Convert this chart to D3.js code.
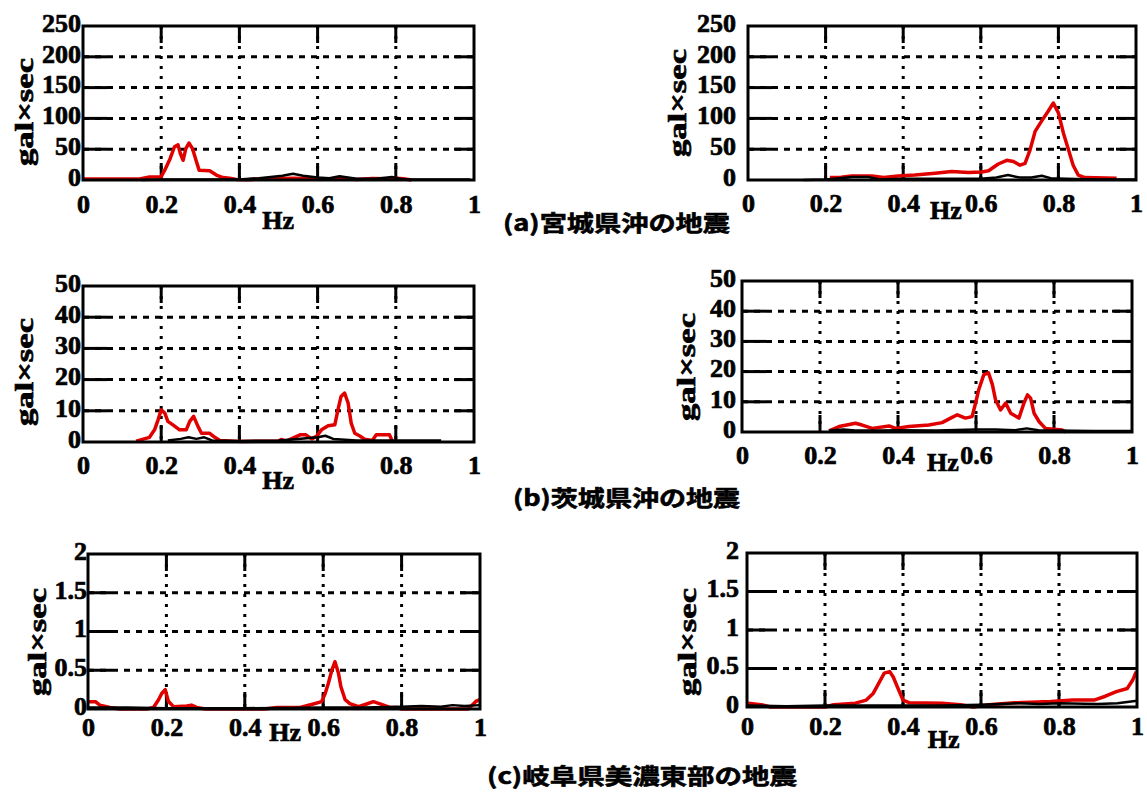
<!DOCTYPE html>
<meta charset="utf-8">
<style>
body { margin: 0; background: #fff; }
.tick text { font-family: "Liberation Serif", serif; font-weight: bold; font-size: 26px; fill: #000; stroke: #000; stroke-width: 0.7px; }
.hz, .ytitle { font-family: "Liberation Serif", serif; font-weight: bold; fill: #000; stroke: #000; stroke-width: 0.7px; }
.caption { font-family: "Noto Sans CJK JP", sans-serif; font-weight: bold; font-size: 22px; fill: #000; stroke: #000; stroke-width: 0.6px; }
</style>
<body>
<svg id="svg" width="1147" height="795"></svg>
<script src="https://cdnjs.cloudflare.com/ajax/libs/d3/7.8.5/d3.min.js"></script>
<script>

var xTicks = [0, 0.2, 0.4, 0.6, 0.8, 1];
var yTicksA = [0, 50, 100, 150, 200, 250];
var yTicksB = [0, 10, 20, 30, 40, 50];
var yTicksC = [0, 0.5, 1, 1.5, 2];

var captions = ["(a)宮城県沖の地震", "(b)茨城県沖の地震", "(c)岐阜県美濃東部の地震"];
var yTitle = "gal×sec";
var xTitle = "Hz";

// [Hz, value]
var aLeftRed = [[0,1.6],[0.05,1.6],[0.1,1.6],[0.145,1.6],[0.17,5],[0.2,5.4],[0.209,16],[0.223,35],[0.234,54],[0.243,57],[0.249,43],[0.256,32],[0.263,51],[0.271,60],[0.28,51],[0.29,30],[0.297,16],[0.324,15],[0.341,8],[0.358,4],[0.375,3],[0.392,1],[0.42,0.5],[0.46,2],[0.5,2.5],[0.54,3],[0.58,2],[0.62,1.5],[0.66,2],[0.7,1],[0.74,2.5],[0.78,2],[0.8,3],[0.82,2],[0.84,0]];
var aLeftBlack = [[0.15,0],[0.2,1],[0.3,1],[0.4,1],[0.45,3],[0.48,5],[0.51,7],[0.537,10],[0.563,7],[0.6,4],[0.63,3],[0.656,6],[0.7,2],[0.75,2],[0.79,5],[0.82,1],[0.9,1],[0.99,1]];
var aRightRed = [[0.211,4],[0.24,4.4],[0.267,6.6],[0.319,6.6],[0.35,4],[0.387,6.6],[0.43,8],[0.482,10.9],[0.525,13.7],[0.568,12],[0.602,13],[0.62,15],[0.645,26],[0.667,32],[0.684,30],[0.701,24],[0.714,27],[0.727,49],[0.74,79],[0.757,96],[0.774,112],[0.787,125],[0.8,109],[0.813,76],[0.826,49],[0.838,24],[0.851,8],[0.868,4],[0.95,3]];
var aRightBlack = [[0.143,0],[0.2,1],[0.27,5],[0.31,5],[0.34,1],[0.4,2],[0.5,2],[0.6,2],[0.64,4],[0.67,8],[0.7,4],[0.73,4],[0.757,7],[0.78,3],[0.82,2],[0.9,1],[1,1]];

var bLeftRed = [[0.136,0.3],[0.17,1.5],[0.183,3.9],[0.192,7.1],[0.2,10.3],[0.209,9.3],[0.217,6.6],[0.23,5.5],[0.247,3.9],[0.264,3.9],[0.273,6.6],[0.283,8.2],[0.294,5],[0.303,2.8],[0.324,2.8],[0.337,1.5],[0.35,0.5],[0.4,0.2],[0.5,0.3],[0.507,0.8],[0.52,0.3],[0.555,2.3],[0.57,2.3],[0.585,1],[0.597,1.8],[0.61,3.9],[0.627,5.2],[0.644,5.5],[0.652,10.3],[0.66,14.6],[0.669,15.7],[0.678,12.5],[0.686,6],[0.695,2.8],[0.708,1.9],[0.72,0.9],[0.74,0.5],[0.75,2.3],[0.784,2.3],[0.79,0.5]];
var bLeftBlack = [[0.217,0.5],[0.25,1],[0.27,1.5],[0.29,1],[0.31,1.5],[0.33,0.5],[0.4,0.3],[0.5,0.5],[0.55,1],[0.6,1.5],[0.62,2],[0.64,1],[0.7,0.5],[0.8,0.5],[0.916,0.5]];
var bRightRed = [[0.223,0.4],[0.249,1.8],[0.291,2.9],[0.308,2.3],[0.334,1.2],[0.377,2],[0.394,1.2],[0.428,1.8],[0.479,2.3],[0.513,3.1],[0.535,4.6],[0.552,5.7],[0.573,4.6],[0.59,5.1],[0.599,9.6],[0.607,14],[0.62,19],[0.632,19.6],[0.642,15.7],[0.65,10.7],[0.663,7.3],[0.676,9.6],[0.689,6.2],[0.71,4.6],[0.723,9.6],[0.732,12.3],[0.74,11.2],[0.749,6.2],[0.762,3.4],[0.778,1.2],[0.8,0.9],[0.821,0.7],[0.83,0]];
var bRightBlack = [[0.223,0.5],[0.26,0.8],[0.29,0.5],[0.35,0.5],[0.4,0.6],[0.5,0.5],[0.6,0.8],[0.65,0.8],[0.7,0.6],[0.73,1.2],[0.76,0.6],[0.8,0.5],[0.9,0.3],[1,0.3]];

var cLeftRed = [[0.002,0.095],[0.019,0.095],[0.03,0.05],[0.056,0.02],[0.08,0],[0.15,0],[0.167,0.02],[0.18,0.12],[0.188,0.2],[0.197,0.25],[0.205,0.1],[0.218,0.03],[0.252,0.04],[0.264,0.05],[0.277,0.02],[0.3,0],[0.45,0],[0.482,0.02],[0.541,0.02],[0.575,0.065],[0.596,0.095],[0.605,0.2],[0.613,0.33],[0.622,0.5],[0.63,0.61],[0.639,0.46],[0.645,0.29],[0.656,0.12],[0.668,0.07],[0.69,0.03],[0.711,0.065],[0.728,0.095],[0.745,0.065],[0.77,0.02],[0.787,0.02],[0.8,0],[0.97,0],[0.99,0.1],[1,0.12]];
var cLeftBlack = [[0,0.02],[0.1,0.02],[0.2,0.01],[0.4,0.01],[0.6,0.02],[0.7,0.02],[0.8,0.03],[0.85,0.04],[0.9,0.03],[0.93,0.05],[0.96,0.04],[1,0.05]];
var cRightRed = [[0.003,0.05],[0.036,0.03],[0.06,0],[0.2,0],[0.222,0.03],[0.278,0.05],[0.306,0.09],[0.324,0.18],[0.338,0.31],[0.352,0.44],[0.366,0.46],[0.375,0.39],[0.389,0.22],[0.4,0.09],[0.417,0.055],[0.5,0.05],[0.547,0.03],[0.58,0],[0.62,0.03],[0.686,0.055],[0.779,0.07],[0.835,0.09],[0.89,0.09],[0.919,0.14],[0.947,0.2],[0.975,0.24],[0.989,0.35],[0.998,0.46]];
var cRightBlack = [[0,0.02],[0.1,0.01],[0.2,0.02],[0.4,0.02],[0.5,0.02],[0.6,0.03],[0.7,0.05],[0.75,0.04],[0.8,0.05],[0.9,0.04],[0.95,0.05],[1,0.08]];

// layout of the six axes boxes
var panels = [
  {left: 83,  right: 474,  top: 26,  bottom: 180, yTicks: yTicksA, red: aLeftRed,  black: aLeftBlack,  yPad: 2,  xLab: 24, hzF: 0.499, hzY: 40, tX: 24,  tY: 112},
  {left: 748, right: 1136, top: 26,  bottom: 180, yTicks: yTicksA, red: aRightRed, black: aRightBlack, yPad: 12, xLab: 23, hzF: 0.51,  hzY: 30, tX: 677, tY: 103},
  {left: 83,  right: 474,  top: 286, bottom: 442, yTicks: yTicksB, red: bLeftRed,  black: bLeftBlack,  yPad: 2,  xLab: 23, hzF: 0.499, hzY: 38, tX: 24,  tY: 372},
  {left: 742, right: 1132, top: 281, bottom: 432, yTicks: yTicksB, red: bRightRed, black: bRightBlack, yPad: 6,  xLab: 23, hzF: 0.515, hzY: 30, tX: 686, tY: 367},
  {left: 88,  right: 480,  top: 554, bottom: 709, yTicks: yTicksC, red: cLeftRed,  black: cLeftBlack,  yPad: 1,  xLab: 18, hzF: 0.503, hzY: 23, tX: 37,  tY: 642},
  {left: 747, right: 1137, top: 553, bottom: 707, yTicks: yTicksC, red: cRightRed, black: cRightBlack, yPad: 8,  xLab: 19, hzF: 0.504, hzY: 32, tX: 687, tY: 642}
];

var capPos = [
  {x: 503, y: 221, w: 227},
  {x: 513, y: 496, w: 227},
  {x: 487, y: 774, w: 310}
];

var svg = d3.select("#svg");

panels.forEach(function(p) {
  var yMax = p.yTicks[p.yTicks.length - 1];
  var x = d3.scaleLinear().domain([0, 1]).range([p.left, p.right]);
  var y = d3.scaleLinear().domain([0, yMax]).range([p.bottom, p.top]);
  var g = svg.append("g");

  // dotted grid
  g.selectAll(".vg").data(xTicks.slice(1, -1)).enter().append("line")
      .attr("x1", function(d) { return x(d); }).attr("x2", function(d) { return x(d); })
      .attr("y1", p.top).attr("y2", p.bottom)
      .attr("stroke", "#000").attr("stroke-width", 3).attr("stroke-dasharray", "3,7");
  g.selectAll(".hg").data(p.yTicks.slice(1, -1)).enter().append("line")
      .attr("x1", p.left).attr("x2", p.right)
      .attr("y1", function(d) { return y(d); }).attr("y2", function(d) { return y(d); })
      .attr("stroke", "#000").attr("stroke-width", 3).attr("stroke-dasharray", "6,6");

  // inward ticks
  xTicks.slice(1, -1).forEach(function(d) {
    g.append("line").attr("x1", x(d)).attr("x2", x(d)).attr("y1", p.top).attr("y2", p.top + 17)
        .attr("stroke", "#000").attr("stroke-width", 3);
    g.append("line").attr("x1", x(d)).attr("x2", x(d)).attr("y1", p.bottom).attr("y2", p.bottom - 17)
        .attr("stroke", "#000").attr("stroke-width", 3);
  });
  p.yTicks.slice(1, -1).forEach(function(d) {
    g.append("line").attr("x1", p.left).attr("x2", p.left + 24).attr("y1", y(d)).attr("y2", y(d))
        .attr("stroke", "#000").attr("stroke-width", 3);
    g.append("line").attr("x1", p.right).attr("x2", p.right - 20).attr("y1", y(d)).attr("y2", y(d))
        .attr("stroke", "#000").attr("stroke-width", 3);
  });

  var line = d3.line()
      .x(function(d) { return x(d[0]); })
      .y(function(d) { return y(d[1]); });

  g.append("path").datum(p.red).attr("d", line)
      .attr("fill", "none").attr("stroke", "#e00000").attr("stroke-width", 3.5).attr("stroke-linejoin", "round");
  g.append("path").datum(p.black).attr("d", line)
      .attr("fill", "none").attr("stroke", "#000").attr("stroke-width", 2.5).attr("stroke-linejoin", "round");

  // frame
  g.append("rect").attr("x", p.left).attr("y", p.top)
      .attr("width", p.right - p.left).attr("height", p.bottom - p.top)
      .attr("fill", "none").attr("stroke", "#000").attr("stroke-width", 3);

  // tick labels
  var ax = g.append("g").attr("transform", "translate(0," + p.bottom + ")")
      .call(d3.axisBottom(x).tickValues(xTicks).tickFormat(d3.format("")).tickSize(0).tickPadding(p.xLab - 9));
  ax.select(".domain").remove();

  var ay = g.append("g").attr("transform", "translate(" + p.left + ",-3)")
      .call(d3.axisLeft(y).tickValues(p.yTicks).tickFormat(d3.format("")).tickSize(0).tickPadding(p.yPad));
  ay.select(".domain").remove();

  g.append("text").attr("class", "hz")
      .attr("x", x(p.hzF)).attr("y", p.bottom + p.hzY)
      .attr("text-anchor", "middle").attr("dominant-baseline", "central")
      .style("font-size", "26px")
      .text(xTitle);

  g.append("text").attr("class", "ytitle")
      .attr("transform", "translate(" + p.tX + "," + p.tY + ") rotate(-90)")
      .attr("text-anchor", "middle").attr("dominant-baseline", "central")
      .attr("textLength", 108).attr("lengthAdjust", "spacingAndGlyphs")
      .style("font-size", "26px")
      .text(yTitle);
});

svg.selectAll(".caption").data(captions).enter().append("text")
    .attr("class", "caption")
    .attr("x", function(d, i) { return capPos[i].x; })
    .attr("y", function(d, i) { return capPos[i].y; })
    .attr("dominant-baseline", "central")
    .attr("textLength", function(d, i) { return capPos[i].w; })
    .attr("lengthAdjust", "spacingAndGlyphs")
    .text(function(d) { return d; });

</script>
</body>
